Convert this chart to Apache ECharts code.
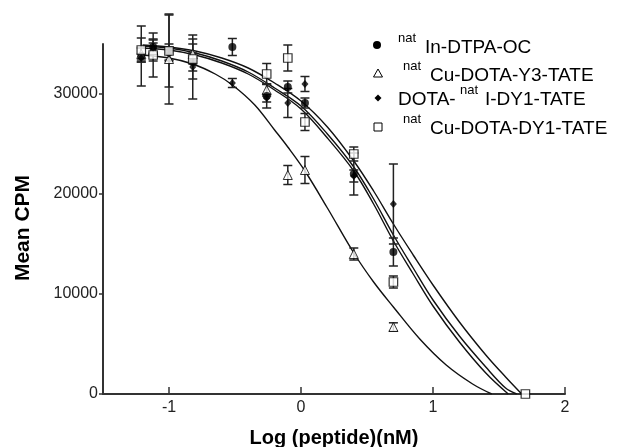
<!DOCTYPE html>
<html><head><meta charset="utf-8">
<script src="https://cdn.jsdelivr.net/npm/echarts@6/dist/echarts.min.js"></script>
<style>html,body{margin:0;padding:0;background:#fff}#c{width:621px;height:447px}</style>
</head><body><div id="c"></div>
<script>
// ---- axis ticks ----
const xTicks = [-1, 0, 1, 2];
const yTicks = [0, 10000, 20000, 30000];

// ---- data: natIn-DTPA-OC (filled circle) ----
const xA = [-1.21, -1.12, -1.0, -0.82, -0.52, -0.26, -0.10, 0.03, 0.40, 0.70];
const yA = [33800, 34700, 34200, 33200, 34700, 29800, 30700, 29100, 22000, 14200];
const eA = [3000, 700, 800, 900, 850, 1200, 600, 500, 2100, 1400];

// ---- natCu-DOTA-Y3-TATE (open triangle) ----
const xB = [-1.21, -1.12, -1.0, -0.82, -0.26, -0.10, 0.03, 0.40, 0.70];
const yB = [34000, 34400, 33500, 34000, 30400, 21900, 22400, 14000, 6700];
const eB = [600, 1100, 4500, 1000, 600, 950, 1350, 600, 420];

// ---- DOTA-natI-DY1-TATE (filled diamond) ----
const xC = [-1.21, -1.12, -1.0, -0.82, -0.52, -0.26, -0.10, 0.03, 0.40, 0.70];
const yC = [33600, 34600, 34000, 32700, 31100, 29600, 29100, 31000, 21800, 19000];
const eC = [400, 500, 700, 3200, 450, 400, 1450, 750, 600, 4000];

// ---- natCu-DOTA-DY1-TATE (open square) ----
const xD = [-1.21, -1.12, -1.0, -0.82, -0.26, -0.10, 0.03, 0.40, 0.70, 1.70];
const yD = [34400, 33900, 34300, 33500, 32000, 33600, 27200, 24000, 11200, 0];
const eD = [1200, 2200, 3600, 2000, 1050, 1300, 850, 700, 600, 0];

// ---- fitted curves ----
const fitXA = [-1.2, -1.0, -0.8, -0.6, -0.4, -0.2, 0, 0.2, 0.4, 0.55, 0.7, 0.85, 1.0, 1.2, 1.4, 1.55, 1.634];
const fitYA = [34800, 34600, 34100, 33300, 32200, 30600, 28800, 26000, 22700, 19500, 15900, 12600, 9400, 5800, 2700, 600, 0];
const fitXB = [-1.2, -1.0, -0.82, -0.65, -0.52, -0.35, -0.2, -0.1, 0.03, 0.2, 0.4, 0.55, 0.7, 0.9, 1.1, 1.3, 1.445];
const fitYB = [33900, 33600, 33000, 32000, 30900, 28900, 26400, 24700, 22300, 18600, 14100, 11200, 8700, 5500, 2900, 1000, 0];
const fitXC = [-1.2, -1.0, -0.8, -0.6, -0.4, -0.2, 0, 0.2, 0.4, 0.55, 0.7, 0.85, 1.0, 1.2, 1.4, 1.55, 1.672];
const fitYC = [34900, 34700, 34300, 33600, 32600, 31100, 29300, 26700, 23300, 20300, 17000, 13900, 10900, 7200, 3900, 1700, 0];
const fitXD = [-1.2, -1.0, -0.8, -0.6, -0.4, -0.2, 0, 0.2, 0.4, 0.55, 0.7, 0.85, 1.0, 1.2, 1.4, 1.57];
const fitYD = [34600, 34400, 33900, 33100, 32000, 30400, 28500, 25600, 22300, 19000, 15300, 12000, 8800, 5200, 2100, 0];

const FONT = "'Liberation Sans', Arial, Helvetica, sans-serif";
const zip = (xs, ys) => xs.map((x, i) => [x, ys[i]]);

function errSeries(xs, ys, es) {
  return {
    type: 'custom', silent: true, clip: false, z: 3,
    encode: { x: 0, y: [1, 2] },
    data: xs.map((x, i) => [x, ys[i] - es[i], ys[i] + es[i]]).filter(d => d[2] > d[1]),
    renderItem: (params, api) => {
      const lo = api.coord([api.value(0), api.value(1)]);
      const hi = api.coord([api.value(0), api.value(2)]);
      const w = 4.5;
      const st = { stroke: '#222', lineWidth: 1.5 };
      return { type: 'group', children: [
        { type: 'line', shape: { x1: lo[0], y1: lo[1], x2: hi[0], y2: hi[1] }, style: st },
        { type: 'line', shape: { x1: lo[0] - w, y1: lo[1], x2: lo[0] + w, y2: lo[1] }, style: st },
        { type: 'line', shape: { x1: hi[0] - w, y1: hi[1], x2: hi[0] + w, y2: hi[1] }, style: st }
      ]};
    }
  };
}
function fitSeries(xs, ys) {
  return { type: 'line', data: zip(xs, ys), showSymbol: false, smooth: 0.35, silent: true, z: 2,
    lineStyle: { color: '#111', width: 1.4 } };
}

const chart = echarts.init(document.getElementById('c'), null, { renderer: 'canvas' });
chart.setOption({
  animation: false,
  backgroundColor: '#fff',
  grid: { left: 103, right: 56, top: 44, bottom: 53, containLabel: false, outerBoundsMode: 'none' },
  xAxis: {
    type: 'value', min: -1.5, max: 2,
    name: 'Log (peptide)(nM)', nameLocation: 'middle', nameGap: 34,
    nameTextStyle: { fontFamily: FONT, fontSize: 20, fontWeight: 'bold', color: '#000' },
    axisLine: { show: true, onZero: false, lineStyle: { color: '#333', width: 2 } },
    axisTick: { show: true, inside: true, length: 7, customValues: xTicks, lineStyle: { color: '#333', width: 1.5 } },
    axisLabel: { customValues: xTicks, fontFamily: FONT, fontSize: 16, color: '#222', margin: 6 },
    splitLine: { show: false }
  },
  yAxis: {
    type: 'value', min: 0, max: 35000,
    axisLine: { show: true, onZero: false, lineStyle: { color: '#333', width: 2 } },
    axisTick: { show: true, inside: false, length: 4, customValues: yTicks, lineStyle: { color: '#333', width: 1.5 } },
    axisLabel: { customValues: yTicks, formatter: v => String(v), fontFamily: FONT, fontSize: 16, color: '#222', margin: 5 },
    splitLine: { show: false }
  },
  graphic: [
    { type: 'text', x: 23, y: 228, rotation: Math.PI / 2,
      style: { text: 'Mean CPM', font: "bold 21px " + FONT, fill: '#000', align: 'center', verticalAlign: 'middle' } },
    // legend
    { type: 'circle', shape: { cx: 377, cy: 45, r: 4 }, style: { fill: '#000' } },
    { type: 'polygon', shape: { points: [[378, 69], [382.5, 77], [373.5, 77]] }, style: { fill: '#fff', stroke: '#000', lineWidth: 1 } },
    { type: 'polygon', shape: { points: [[378, 94.5], [381.5, 98], [378, 101.5], [374.5, 98]] }, style: { fill: '#000' } },
    { type: 'rect', shape: { x: 374, y: 123, width: 8, height: 8 }, style: { fill: '#fff', stroke: '#000', lineWidth: 1 } },
    { type: 'text', x: 398, y: 38, style: { text: 'nat', font: '13px ' + FONT, fill: '#000', verticalAlign: 'middle' } },
    { type: 'text', x: 425, y: 47.5, style: { text: 'In-DTPA-OC', font: '19px ' + FONT, fill: '#000', verticalAlign: 'middle' } },
    { type: 'text', x: 403, y: 66.5, style: { text: 'nat', font: '13px ' + FONT, fill: '#000', verticalAlign: 'middle' } },
    { type: 'text', x: 430, y: 76, style: { text: 'Cu-DOTA-Y3-TATE', font: '19px ' + FONT, fill: '#000', verticalAlign: 'middle' } },
    { type: 'text', x: 398, y: 99.5, style: { text: 'DOTA-', font: '19px ' + FONT, fill: '#000', verticalAlign: 'middle' } },
    { type: 'text', x: 460, y: 90, style: { text: 'nat', font: '13px ' + FONT, fill: '#000', verticalAlign: 'middle' } },
    { type: 'text', x: 485, y: 99.5, style: { text: 'I-DY1-TATE', font: '19px ' + FONT, fill: '#000', verticalAlign: 'middle' } },
    { type: 'text', x: 403, y: 119, style: { text: 'nat', font: '13px ' + FONT, fill: '#000', verticalAlign: 'middle' } },
    { type: 'text', x: 430, y: 128.5, style: { text: 'Cu-DOTA-DY1-TATE', font: '19px ' + FONT, fill: '#000', verticalAlign: 'middle' } }
  ],
  series: [
    fitSeries(fitXA, fitYA),
    fitSeries(fitXB, fitYB),
    fitSeries(fitXC, fitYC),
    fitSeries(fitXD, fitYD),
    errSeries(xA, yA, eA),
    errSeries(xB, yB, eB),
    errSeries(xC, yC, eC),
    errSeries(xD, yD, eD),
    { name: 'natCu-DOTA-Y3-TATE', type: 'scatter', data: zip(xB, yB), symbol: 'triangle', symbolSize: 9, clip: false, z: 4,
      itemStyle: { color: '#fff', borderColor: '#000', borderWidth: 1 } },
    { name: 'DOTA-natI-DY1-TATE', type: 'scatter', data: zip(xC, yC), symbol: 'diamond', symbolSize: [7, 8], clip: false, z: 5,
      itemStyle: { color: '#000' } },
    { name: 'natIn-DTPA-OC', type: 'scatter', data: zip(xA, yA), symbol: 'circle', symbolSize: 8, clip: false, z: 6,
      itemStyle: { color: '#000' } },
    { name: 'natCu-DOTA-DY1-TATE', type: 'scatter', data: zip(xD, yD), symbol: 'rect', symbolSize: 8.5, clip: false, z: 7,
      itemStyle: { color: '#fff', borderColor: '#000', borderWidth: 1.2 } }
  ]
});
</script></body></html>
